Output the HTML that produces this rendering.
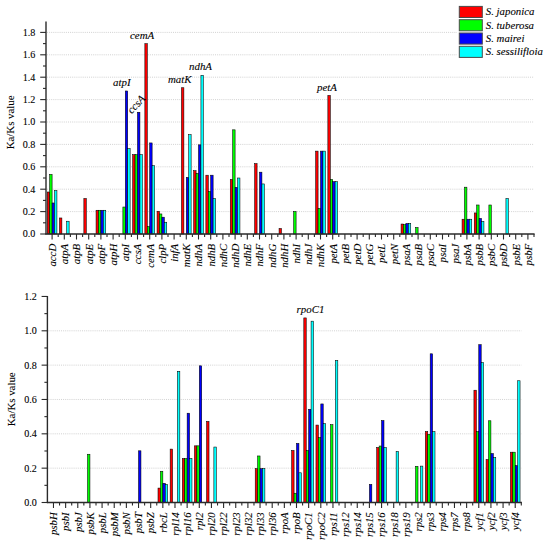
<!DOCTYPE html>
<html><head><meta charset="utf-8"><title>Ka/Ks</title>
<style>
html,body{margin:0;padding:0;background:#fff;}
body{width:550px;height:544px;overflow:hidden;font-family:"Liberation Serif",serif;}
svg{display:block;}
svg text{font-family:"Liberation Serif",serif;fill:#000;stroke:#000;stroke-width:0.1px;}
</style></head><body>
<svg width="550" height="544" viewBox="0 0 550 544">
<rect width="550" height="544" fill="#fff"/>
<line x1="47" y1="211.6" x2="534" y2="211.6" stroke="#cdcdcd" stroke-width="0.9" stroke-dasharray="1 1.1"/>
<line x1="47" y1="189.2" x2="534" y2="189.2" stroke="#cdcdcd" stroke-width="0.9" stroke-dasharray="1 1.1"/>
<line x1="47" y1="166.8" x2="534" y2="166.8" stroke="#cdcdcd" stroke-width="0.9" stroke-dasharray="1 1.1"/>
<line x1="47" y1="144.4" x2="534" y2="144.4" stroke="#cdcdcd" stroke-width="0.9" stroke-dasharray="1 1.1"/>
<line x1="47" y1="122" x2="534" y2="122" stroke="#cdcdcd" stroke-width="0.9" stroke-dasharray="1 1.1"/>
<line x1="47" y1="99.6" x2="534" y2="99.6" stroke="#cdcdcd" stroke-width="0.9" stroke-dasharray="1 1.1"/>
<line x1="47" y1="77.2" x2="534" y2="77.2" stroke="#cdcdcd" stroke-width="0.9" stroke-dasharray="1 1.1"/>
<line x1="47" y1="54.8" x2="534" y2="54.8" stroke="#cdcdcd" stroke-width="0.9" stroke-dasharray="1 1.1"/>
<line x1="47" y1="32.4" x2="534" y2="32.4" stroke="#cdcdcd" stroke-width="0.9" stroke-dasharray="1 1.1"/>
<rect x="47.26" y="192" width="2.42" height="42" fill="#ff0000" stroke="#000" stroke-width="0.55"/>
<rect x="49.68" y="174.42" width="2.42" height="59.58" fill="#00ff00" stroke="#000" stroke-width="0.55"/>
<rect x="52.1" y="202.98" width="2.42" height="31.02" fill="#0000ff" stroke="#000" stroke-width="0.55"/>
<rect x="54.52" y="190.66" width="2.42" height="43.34" fill="#00ffff" stroke="#000" stroke-width="0.55"/>
<rect x="59.46" y="217.98" width="2.42" height="16.02" fill="#ff0000" stroke="#000" stroke-width="0.55"/>
<rect x="66.72" y="221.23" width="2.42" height="12.77" fill="#00ffff" stroke="#000" stroke-width="0.55"/>
<rect x="83.86" y="198.5" width="2.42" height="35.5" fill="#ff0000" stroke="#000" stroke-width="0.55"/>
<rect x="96.06" y="210.26" width="2.42" height="23.74" fill="#ff0000" stroke="#000" stroke-width="0.55"/>
<rect x="98.48" y="210.26" width="2.42" height="23.74" fill="#00ff00" stroke="#000" stroke-width="0.55"/>
<rect x="100.9" y="210.26" width="2.42" height="23.74" fill="#0000ff" stroke="#000" stroke-width="0.55"/>
<rect x="103.32" y="210.26" width="2.42" height="23.74" fill="#00ffff" stroke="#000" stroke-width="0.55"/>
<rect x="122.88" y="207.01" width="2.42" height="26.99" fill="#00ff00" stroke="#000" stroke-width="0.55"/>
<rect x="125.3" y="90.98" width="2.42" height="143.02" fill="#0000ff" stroke="#000" stroke-width="0.55"/>
<rect x="127.72" y="148.66" width="2.42" height="85.34" fill="#00ffff" stroke="#000" stroke-width="0.55"/>
<rect x="132.66" y="154.7" width="2.42" height="79.3" fill="#ff0000" stroke="#000" stroke-width="0.55"/>
<rect x="135.08" y="154.7" width="2.42" height="79.3" fill="#00ff00" stroke="#000" stroke-width="0.55"/>
<rect x="137.5" y="112.26" width="2.42" height="121.74" fill="#0000ff" stroke="#000" stroke-width="0.55"/>
<rect x="139.92" y="154.7" width="2.42" height="79.3" fill="#00ffff" stroke="#000" stroke-width="0.55"/>
<rect x="144.86" y="43.71" width="2.42" height="190.29" fill="#ff0000" stroke="#000" stroke-width="0.55"/>
<rect x="147.28" y="226.5" width="2.42" height="7.5" fill="#00ff00" stroke="#000" stroke-width="0.55"/>
<rect x="149.7" y="142.94" width="2.42" height="91.06" fill="#0000ff" stroke="#000" stroke-width="0.55"/>
<rect x="152.12" y="165.68" width="2.42" height="68.32" fill="#00ffff" stroke="#000" stroke-width="0.55"/>
<rect x="157.06" y="211.26" width="2.42" height="22.74" fill="#ff0000" stroke="#000" stroke-width="0.55"/>
<rect x="159.48" y="213.95" width="2.42" height="20.05" fill="#00ff00" stroke="#000" stroke-width="0.55"/>
<rect x="161.9" y="217.2" width="2.42" height="16.8" fill="#0000ff" stroke="#000" stroke-width="0.55"/>
<rect x="164.32" y="222.24" width="2.42" height="11.76" fill="#00ffff" stroke="#000" stroke-width="0.55"/>
<rect x="181.46" y="87.73" width="2.42" height="146.27" fill="#ff0000" stroke="#000" stroke-width="0.55"/>
<rect x="186.3" y="177.44" width="2.42" height="56.56" fill="#0000ff" stroke="#000" stroke-width="0.55"/>
<rect x="188.72" y="134.66" width="2.42" height="99.34" fill="#00ffff" stroke="#000" stroke-width="0.55"/>
<rect x="193.66" y="170.72" width="2.42" height="63.28" fill="#ff0000" stroke="#000" stroke-width="0.55"/>
<rect x="196.08" y="173.41" width="2.42" height="60.59" fill="#00ff00" stroke="#000" stroke-width="0.55"/>
<rect x="198.5" y="144.85" width="2.42" height="89.15" fill="#0000ff" stroke="#000" stroke-width="0.55"/>
<rect x="200.92" y="75.3" width="2.42" height="158.7" fill="#00ffff" stroke="#000" stroke-width="0.55"/>
<rect x="205.86" y="175.2" width="2.42" height="58.8" fill="#ff0000" stroke="#000" stroke-width="0.55"/>
<rect x="208.28" y="191.44" width="2.42" height="42.56" fill="#00ff00" stroke="#000" stroke-width="0.55"/>
<rect x="210.7" y="175.2" width="2.42" height="58.8" fill="#0000ff" stroke="#000" stroke-width="0.55"/>
<rect x="213.12" y="198.5" width="2.42" height="35.5" fill="#00ffff" stroke="#000" stroke-width="0.55"/>
<rect x="230.26" y="179.46" width="2.42" height="54.54" fill="#ff0000" stroke="#000" stroke-width="0.55"/>
<rect x="232.68" y="129.84" width="2.42" height="104.16" fill="#00ff00" stroke="#000" stroke-width="0.55"/>
<rect x="235.1" y="187.41" width="2.42" height="46.59" fill="#0000ff" stroke="#000" stroke-width="0.55"/>
<rect x="237.52" y="178" width="2.42" height="56" fill="#00ffff" stroke="#000" stroke-width="0.55"/>
<rect x="254.66" y="163.66" width="2.42" height="70.34" fill="#ff0000" stroke="#000" stroke-width="0.55"/>
<rect x="259.5" y="172.18" width="2.42" height="61.82" fill="#0000ff" stroke="#000" stroke-width="0.55"/>
<rect x="261.92" y="183.94" width="2.42" height="50.06" fill="#00ffff" stroke="#000" stroke-width="0.55"/>
<rect x="279.06" y="228.51" width="2.42" height="5.49" fill="#ff0000" stroke="#000" stroke-width="0.55"/>
<rect x="293.68" y="211.49" width="2.42" height="22.51" fill="#00ff00" stroke="#000" stroke-width="0.55"/>
<rect x="315.66" y="151.12" width="2.42" height="82.88" fill="#ff0000" stroke="#000" stroke-width="0.55"/>
<rect x="318.08" y="208.46" width="2.42" height="25.54" fill="#00ff00" stroke="#000" stroke-width="0.55"/>
<rect x="320.5" y="151.12" width="2.42" height="82.88" fill="#0000ff" stroke="#000" stroke-width="0.55"/>
<rect x="322.92" y="151.12" width="2.42" height="82.88" fill="#00ffff" stroke="#000" stroke-width="0.55"/>
<rect x="327.86" y="95.46" width="2.42" height="138.54" fill="#ff0000" stroke="#000" stroke-width="0.55"/>
<rect x="330.28" y="179.46" width="2.42" height="54.54" fill="#00ff00" stroke="#000" stroke-width="0.55"/>
<rect x="332.7" y="181.7" width="2.42" height="52.3" fill="#0000ff" stroke="#000" stroke-width="0.55"/>
<rect x="335.12" y="181.7" width="2.42" height="52.3" fill="#00ffff" stroke="#000" stroke-width="0.55"/>
<rect x="401.06" y="224.03" width="2.42" height="9.97" fill="#ff0000" stroke="#000" stroke-width="0.55"/>
<rect x="403.48" y="224.7" width="2.42" height="9.3" fill="#00ff00" stroke="#000" stroke-width="0.55"/>
<rect x="405.9" y="223.47" width="2.42" height="10.53" fill="#0000ff" stroke="#000" stroke-width="0.55"/>
<rect x="408.32" y="223.47" width="2.42" height="10.53" fill="#00ffff" stroke="#000" stroke-width="0.55"/>
<rect x="415.68" y="227.5" width="2.42" height="6.5" fill="#00ff00" stroke="#000" stroke-width="0.55"/>
<rect x="462.06" y="219.22" width="2.42" height="14.78" fill="#ff0000" stroke="#000" stroke-width="0.55"/>
<rect x="464.48" y="187.18" width="2.42" height="46.82" fill="#00ff00" stroke="#000" stroke-width="0.55"/>
<rect x="466.9" y="219.22" width="2.42" height="14.78" fill="#0000ff" stroke="#000" stroke-width="0.55"/>
<rect x="469.32" y="219.22" width="2.42" height="14.78" fill="#00ffff" stroke="#000" stroke-width="0.55"/>
<rect x="474.26" y="212.94" width="2.42" height="21.06" fill="#ff0000" stroke="#000" stroke-width="0.55"/>
<rect x="476.68" y="204.99" width="2.42" height="29.01" fill="#00ff00" stroke="#000" stroke-width="0.55"/>
<rect x="479.1" y="218.43" width="2.42" height="15.57" fill="#0000ff" stroke="#000" stroke-width="0.55"/>
<rect x="481.52" y="221.46" width="2.42" height="12.54" fill="#00ffff" stroke="#000" stroke-width="0.55"/>
<rect x="488.88" y="204.99" width="2.42" height="29.01" fill="#00ff00" stroke="#000" stroke-width="0.55"/>
<rect x="505.92" y="198.5" width="2.42" height="35.5" fill="#00ffff" stroke="#000" stroke-width="0.55"/>
<line x1="46" y1="21.5" x2="46" y2="234.6" stroke="#2a2a2a" stroke-width="1.4"/>
<line x1="45.4" y1="234" x2="534.6" y2="234" stroke="#2a2a2a" stroke-width="1.4"/>
<line x1="40.2" y1="234" x2="46" y2="234" stroke="#2a2a2a" stroke-width="1.1"/>
<text x="35.4" y="237.4" text-anchor="end" font-size="10.1">0.0</text>
<line x1="43" y1="222.8" x2="46" y2="222.8" stroke="#2a2a2a" stroke-width="1.1"/>
<line x1="40.2" y1="211.6" x2="46" y2="211.6" stroke="#2a2a2a" stroke-width="1.1"/>
<text x="35.4" y="215" text-anchor="end" font-size="10.1">0.2</text>
<line x1="43" y1="200.4" x2="46" y2="200.4" stroke="#2a2a2a" stroke-width="1.1"/>
<line x1="40.2" y1="189.2" x2="46" y2="189.2" stroke="#2a2a2a" stroke-width="1.1"/>
<text x="35.4" y="192.6" text-anchor="end" font-size="10.1">0.4</text>
<line x1="43" y1="178" x2="46" y2="178" stroke="#2a2a2a" stroke-width="1.1"/>
<line x1="40.2" y1="166.8" x2="46" y2="166.8" stroke="#2a2a2a" stroke-width="1.1"/>
<text x="35.4" y="170.2" text-anchor="end" font-size="10.1">0.6</text>
<line x1="43" y1="155.6" x2="46" y2="155.6" stroke="#2a2a2a" stroke-width="1.1"/>
<line x1="40.2" y1="144.4" x2="46" y2="144.4" stroke="#2a2a2a" stroke-width="1.1"/>
<text x="35.4" y="147.8" text-anchor="end" font-size="10.1">0.8</text>
<line x1="43" y1="133.2" x2="46" y2="133.2" stroke="#2a2a2a" stroke-width="1.1"/>
<line x1="40.2" y1="122" x2="46" y2="122" stroke="#2a2a2a" stroke-width="1.1"/>
<text x="35.4" y="125.4" text-anchor="end" font-size="10.1">1.0</text>
<line x1="43" y1="110.8" x2="46" y2="110.8" stroke="#2a2a2a" stroke-width="1.1"/>
<line x1="40.2" y1="99.6" x2="46" y2="99.6" stroke="#2a2a2a" stroke-width="1.1"/>
<text x="35.4" y="103" text-anchor="end" font-size="10.1">1.2</text>
<line x1="43" y1="88.4" x2="46" y2="88.4" stroke="#2a2a2a" stroke-width="1.1"/>
<line x1="40.2" y1="77.2" x2="46" y2="77.2" stroke="#2a2a2a" stroke-width="1.1"/>
<text x="35.4" y="80.6" text-anchor="end" font-size="10.1">1.4</text>
<line x1="43" y1="66" x2="46" y2="66" stroke="#2a2a2a" stroke-width="1.1"/>
<line x1="40.2" y1="54.8" x2="46" y2="54.8" stroke="#2a2a2a" stroke-width="1.1"/>
<text x="35.4" y="58.2" text-anchor="end" font-size="10.1">1.6</text>
<line x1="43" y1="43.6" x2="46" y2="43.6" stroke="#2a2a2a" stroke-width="1.1"/>
<line x1="40.2" y1="32.4" x2="46" y2="32.4" stroke="#2a2a2a" stroke-width="1.1"/>
<text x="35.4" y="35.8" text-anchor="end" font-size="10.1">1.8</text>
<line x1="52.1" y1="234" x2="52.1" y2="239.5" stroke="#2a2a2a" stroke-width="1.1"/>
<text transform="translate(55.9,243.8) rotate(-90)" text-anchor="end" font-style="italic" font-size="10.8">accD</text>
<line x1="58.2" y1="234" x2="58.2" y2="237" stroke="#2a2a2a" stroke-width="1.1"/>
<line x1="64.3" y1="234" x2="64.3" y2="239.5" stroke="#2a2a2a" stroke-width="1.1"/>
<text transform="translate(68.1,243.8) rotate(-90)" text-anchor="end" font-style="italic" font-size="10.8">atpA</text>
<line x1="70.4" y1="234" x2="70.4" y2="237" stroke="#2a2a2a" stroke-width="1.1"/>
<line x1="76.5" y1="234" x2="76.5" y2="239.5" stroke="#2a2a2a" stroke-width="1.1"/>
<text transform="translate(80.3,243.8) rotate(-90)" text-anchor="end" font-style="italic" font-size="10.8">atpB</text>
<line x1="82.6" y1="234" x2="82.6" y2="237" stroke="#2a2a2a" stroke-width="1.1"/>
<line x1="88.7" y1="234" x2="88.7" y2="239.5" stroke="#2a2a2a" stroke-width="1.1"/>
<text transform="translate(92.5,243.8) rotate(-90)" text-anchor="end" font-style="italic" font-size="10.8">atpE</text>
<line x1="94.8" y1="234" x2="94.8" y2="237" stroke="#2a2a2a" stroke-width="1.1"/>
<line x1="100.9" y1="234" x2="100.9" y2="239.5" stroke="#2a2a2a" stroke-width="1.1"/>
<text transform="translate(104.7,243.8) rotate(-90)" text-anchor="end" font-style="italic" font-size="10.8">atpF</text>
<line x1="107" y1="234" x2="107" y2="237" stroke="#2a2a2a" stroke-width="1.1"/>
<line x1="113.1" y1="234" x2="113.1" y2="239.5" stroke="#2a2a2a" stroke-width="1.1"/>
<text transform="translate(116.9,243.8) rotate(-90)" text-anchor="end" font-style="italic" font-size="10.8">atpH</text>
<line x1="119.2" y1="234" x2="119.2" y2="237" stroke="#2a2a2a" stroke-width="1.1"/>
<line x1="125.3" y1="234" x2="125.3" y2="239.5" stroke="#2a2a2a" stroke-width="1.1"/>
<text transform="translate(129.1,243.8) rotate(-90)" text-anchor="end" font-style="italic" font-size="10.8">atpI</text>
<line x1="131.4" y1="234" x2="131.4" y2="237" stroke="#2a2a2a" stroke-width="1.1"/>
<line x1="137.5" y1="234" x2="137.5" y2="239.5" stroke="#2a2a2a" stroke-width="1.1"/>
<text transform="translate(141.3,243.8) rotate(-90)" text-anchor="end" font-style="italic" font-size="10.8">ccsA</text>
<line x1="143.6" y1="234" x2="143.6" y2="237" stroke="#2a2a2a" stroke-width="1.1"/>
<line x1="149.7" y1="234" x2="149.7" y2="239.5" stroke="#2a2a2a" stroke-width="1.1"/>
<text transform="translate(153.5,243.8) rotate(-90)" text-anchor="end" font-style="italic" font-size="10.8">cemA</text>
<line x1="155.8" y1="234" x2="155.8" y2="237" stroke="#2a2a2a" stroke-width="1.1"/>
<line x1="161.9" y1="234" x2="161.9" y2="239.5" stroke="#2a2a2a" stroke-width="1.1"/>
<text transform="translate(165.7,243.8) rotate(-90)" text-anchor="end" font-style="italic" font-size="10.8">clpP</text>
<line x1="168" y1="234" x2="168" y2="237" stroke="#2a2a2a" stroke-width="1.1"/>
<line x1="174.1" y1="234" x2="174.1" y2="239.5" stroke="#2a2a2a" stroke-width="1.1"/>
<text transform="translate(177.9,243.8) rotate(-90)" text-anchor="end" font-style="italic" font-size="10.8">infA</text>
<line x1="180.2" y1="234" x2="180.2" y2="237" stroke="#2a2a2a" stroke-width="1.1"/>
<line x1="186.3" y1="234" x2="186.3" y2="239.5" stroke="#2a2a2a" stroke-width="1.1"/>
<text transform="translate(190.1,243.8) rotate(-90)" text-anchor="end" font-style="italic" font-size="10.8">matK</text>
<line x1="192.4" y1="234" x2="192.4" y2="237" stroke="#2a2a2a" stroke-width="1.1"/>
<line x1="198.5" y1="234" x2="198.5" y2="239.5" stroke="#2a2a2a" stroke-width="1.1"/>
<text transform="translate(202.3,243.8) rotate(-90)" text-anchor="end" font-style="italic" font-size="10.8">ndhA</text>
<line x1="204.6" y1="234" x2="204.6" y2="237" stroke="#2a2a2a" stroke-width="1.1"/>
<line x1="210.7" y1="234" x2="210.7" y2="239.5" stroke="#2a2a2a" stroke-width="1.1"/>
<text transform="translate(214.5,243.8) rotate(-90)" text-anchor="end" font-style="italic" font-size="10.8">ndhB</text>
<line x1="216.8" y1="234" x2="216.8" y2="237" stroke="#2a2a2a" stroke-width="1.1"/>
<line x1="222.9" y1="234" x2="222.9" y2="239.5" stroke="#2a2a2a" stroke-width="1.1"/>
<text transform="translate(226.7,243.8) rotate(-90)" text-anchor="end" font-style="italic" font-size="10.8">ndhC</text>
<line x1="229" y1="234" x2="229" y2="237" stroke="#2a2a2a" stroke-width="1.1"/>
<line x1="235.1" y1="234" x2="235.1" y2="239.5" stroke="#2a2a2a" stroke-width="1.1"/>
<text transform="translate(238.9,243.8) rotate(-90)" text-anchor="end" font-style="italic" font-size="10.8">ndhD</text>
<line x1="241.2" y1="234" x2="241.2" y2="237" stroke="#2a2a2a" stroke-width="1.1"/>
<line x1="247.3" y1="234" x2="247.3" y2="239.5" stroke="#2a2a2a" stroke-width="1.1"/>
<text transform="translate(251.1,243.8) rotate(-90)" text-anchor="end" font-style="italic" font-size="10.8">ndhE</text>
<line x1="253.4" y1="234" x2="253.4" y2="237" stroke="#2a2a2a" stroke-width="1.1"/>
<line x1="259.5" y1="234" x2="259.5" y2="239.5" stroke="#2a2a2a" stroke-width="1.1"/>
<text transform="translate(263.3,243.8) rotate(-90)" text-anchor="end" font-style="italic" font-size="10.8">ndhF</text>
<line x1="265.6" y1="234" x2="265.6" y2="237" stroke="#2a2a2a" stroke-width="1.1"/>
<line x1="271.7" y1="234" x2="271.7" y2="239.5" stroke="#2a2a2a" stroke-width="1.1"/>
<text transform="translate(275.5,243.8) rotate(-90)" text-anchor="end" font-style="italic" font-size="10.8">ndhG</text>
<line x1="277.8" y1="234" x2="277.8" y2="237" stroke="#2a2a2a" stroke-width="1.1"/>
<line x1="283.9" y1="234" x2="283.9" y2="239.5" stroke="#2a2a2a" stroke-width="1.1"/>
<text transform="translate(287.7,243.8) rotate(-90)" text-anchor="end" font-style="italic" font-size="10.8">ndhH</text>
<line x1="290" y1="234" x2="290" y2="237" stroke="#2a2a2a" stroke-width="1.1"/>
<line x1="296.1" y1="234" x2="296.1" y2="239.5" stroke="#2a2a2a" stroke-width="1.1"/>
<text transform="translate(299.9,243.8) rotate(-90)" text-anchor="end" font-style="italic" font-size="10.8">ndhI</text>
<line x1="302.2" y1="234" x2="302.2" y2="237" stroke="#2a2a2a" stroke-width="1.1"/>
<line x1="308.3" y1="234" x2="308.3" y2="239.5" stroke="#2a2a2a" stroke-width="1.1"/>
<text transform="translate(312.1,243.8) rotate(-90)" text-anchor="end" font-style="italic" font-size="10.8">ndhJ</text>
<line x1="314.4" y1="234" x2="314.4" y2="237" stroke="#2a2a2a" stroke-width="1.1"/>
<line x1="320.5" y1="234" x2="320.5" y2="239.5" stroke="#2a2a2a" stroke-width="1.1"/>
<text transform="translate(324.3,243.8) rotate(-90)" text-anchor="end" font-style="italic" font-size="10.8">ndhK</text>
<line x1="326.6" y1="234" x2="326.6" y2="237" stroke="#2a2a2a" stroke-width="1.1"/>
<line x1="332.7" y1="234" x2="332.7" y2="239.5" stroke="#2a2a2a" stroke-width="1.1"/>
<text transform="translate(336.5,243.8) rotate(-90)" text-anchor="end" font-style="italic" font-size="10.8">petA</text>
<line x1="338.8" y1="234" x2="338.8" y2="237" stroke="#2a2a2a" stroke-width="1.1"/>
<line x1="344.9" y1="234" x2="344.9" y2="239.5" stroke="#2a2a2a" stroke-width="1.1"/>
<text transform="translate(348.7,243.8) rotate(-90)" text-anchor="end" font-style="italic" font-size="10.8">petB</text>
<line x1="351" y1="234" x2="351" y2="237" stroke="#2a2a2a" stroke-width="1.1"/>
<line x1="357.1" y1="234" x2="357.1" y2="239.5" stroke="#2a2a2a" stroke-width="1.1"/>
<text transform="translate(360.9,243.8) rotate(-90)" text-anchor="end" font-style="italic" font-size="10.8">petD</text>
<line x1="363.2" y1="234" x2="363.2" y2="237" stroke="#2a2a2a" stroke-width="1.1"/>
<line x1="369.3" y1="234" x2="369.3" y2="239.5" stroke="#2a2a2a" stroke-width="1.1"/>
<text transform="translate(373.1,243.8) rotate(-90)" text-anchor="end" font-style="italic" font-size="10.8">petG</text>
<line x1="375.4" y1="234" x2="375.4" y2="237" stroke="#2a2a2a" stroke-width="1.1"/>
<line x1="381.5" y1="234" x2="381.5" y2="239.5" stroke="#2a2a2a" stroke-width="1.1"/>
<text transform="translate(385.3,243.8) rotate(-90)" text-anchor="end" font-style="italic" font-size="10.8">petL</text>
<line x1="387.6" y1="234" x2="387.6" y2="237" stroke="#2a2a2a" stroke-width="1.1"/>
<line x1="393.7" y1="234" x2="393.7" y2="239.5" stroke="#2a2a2a" stroke-width="1.1"/>
<text transform="translate(397.5,243.8) rotate(-90)" text-anchor="end" font-style="italic" font-size="10.8">petN</text>
<line x1="399.8" y1="234" x2="399.8" y2="237" stroke="#2a2a2a" stroke-width="1.1"/>
<line x1="405.9" y1="234" x2="405.9" y2="239.5" stroke="#2a2a2a" stroke-width="1.1"/>
<text transform="translate(409.7,243.8) rotate(-90)" text-anchor="end" font-style="italic" font-size="10.8">psaA</text>
<line x1="412" y1="234" x2="412" y2="237" stroke="#2a2a2a" stroke-width="1.1"/>
<line x1="418.1" y1="234" x2="418.1" y2="239.5" stroke="#2a2a2a" stroke-width="1.1"/>
<text transform="translate(421.9,243.8) rotate(-90)" text-anchor="end" font-style="italic" font-size="10.8">psaB</text>
<line x1="424.2" y1="234" x2="424.2" y2="237" stroke="#2a2a2a" stroke-width="1.1"/>
<line x1="430.3" y1="234" x2="430.3" y2="239.5" stroke="#2a2a2a" stroke-width="1.1"/>
<text transform="translate(434.1,243.8) rotate(-90)" text-anchor="end" font-style="italic" font-size="10.8">psaC</text>
<line x1="436.4" y1="234" x2="436.4" y2="237" stroke="#2a2a2a" stroke-width="1.1"/>
<line x1="442.5" y1="234" x2="442.5" y2="239.5" stroke="#2a2a2a" stroke-width="1.1"/>
<text transform="translate(446.3,243.8) rotate(-90)" text-anchor="end" font-style="italic" font-size="10.8">psaI</text>
<line x1="448.6" y1="234" x2="448.6" y2="237" stroke="#2a2a2a" stroke-width="1.1"/>
<line x1="454.7" y1="234" x2="454.7" y2="239.5" stroke="#2a2a2a" stroke-width="1.1"/>
<text transform="translate(458.5,243.8) rotate(-90)" text-anchor="end" font-style="italic" font-size="10.8">psaJ</text>
<line x1="460.8" y1="234" x2="460.8" y2="237" stroke="#2a2a2a" stroke-width="1.1"/>
<line x1="466.9" y1="234" x2="466.9" y2="239.5" stroke="#2a2a2a" stroke-width="1.1"/>
<text transform="translate(470.7,243.8) rotate(-90)" text-anchor="end" font-style="italic" font-size="10.8">psbA</text>
<line x1="473" y1="234" x2="473" y2="237" stroke="#2a2a2a" stroke-width="1.1"/>
<line x1="479.1" y1="234" x2="479.1" y2="239.5" stroke="#2a2a2a" stroke-width="1.1"/>
<text transform="translate(482.9,243.8) rotate(-90)" text-anchor="end" font-style="italic" font-size="10.8">psbB</text>
<line x1="485.2" y1="234" x2="485.2" y2="237" stroke="#2a2a2a" stroke-width="1.1"/>
<line x1="491.3" y1="234" x2="491.3" y2="239.5" stroke="#2a2a2a" stroke-width="1.1"/>
<text transform="translate(495.1,243.8) rotate(-90)" text-anchor="end" font-style="italic" font-size="10.8">psbC</text>
<line x1="497.4" y1="234" x2="497.4" y2="237" stroke="#2a2a2a" stroke-width="1.1"/>
<line x1="503.5" y1="234" x2="503.5" y2="239.5" stroke="#2a2a2a" stroke-width="1.1"/>
<text transform="translate(507.3,243.8) rotate(-90)" text-anchor="end" font-style="italic" font-size="10.8">psbD</text>
<line x1="509.6" y1="234" x2="509.6" y2="237" stroke="#2a2a2a" stroke-width="1.1"/>
<line x1="515.7" y1="234" x2="515.7" y2="239.5" stroke="#2a2a2a" stroke-width="1.1"/>
<text transform="translate(519.5,243.8) rotate(-90)" text-anchor="end" font-style="italic" font-size="10.8">psbE</text>
<line x1="521.8" y1="234" x2="521.8" y2="237" stroke="#2a2a2a" stroke-width="1.1"/>
<line x1="527.9" y1="234" x2="527.9" y2="239.5" stroke="#2a2a2a" stroke-width="1.1"/>
<text transform="translate(531.7,243.8) rotate(-90)" text-anchor="end" font-style="italic" font-size="10.8">psbF</text>
<line x1="534" y1="234" x2="534" y2="237" stroke="#2a2a2a" stroke-width="1.1"/>
<text transform="translate(14.2,122.4) rotate(-90)" text-anchor="middle" font-size="10.85">Ka/Ks value</text>
<line x1="48.4" y1="468.16" x2="521.3" y2="468.16" stroke="#cdcdcd" stroke-width="0.9" stroke-dasharray="1 1.1"/>
<line x1="48.4" y1="433.82" x2="521.3" y2="433.82" stroke="#cdcdcd" stroke-width="0.9" stroke-dasharray="1 1.1"/>
<line x1="48.4" y1="399.48" x2="521.3" y2="399.48" stroke="#cdcdcd" stroke-width="0.9" stroke-dasharray="1 1.1"/>
<line x1="48.4" y1="365.14" x2="521.3" y2="365.14" stroke="#cdcdcd" stroke-width="0.9" stroke-dasharray="1 1.1"/>
<line x1="48.4" y1="330.8" x2="521.3" y2="330.8" stroke="#cdcdcd" stroke-width="0.9" stroke-dasharray="1 1.1"/>
<rect x="87.51" y="454.25" width="2.42" height="48.25" fill="#00ff00" stroke="#000" stroke-width="0.55"/>
<rect x="138.53" y="450.82" width="2.42" height="51.68" fill="#0000ff" stroke="#000" stroke-width="0.55"/>
<rect x="158" y="488.08" width="2.42" height="14.42" fill="#ff0000" stroke="#000" stroke-width="0.55"/>
<rect x="160.42" y="471.25" width="2.42" height="31.25" fill="#00ff00" stroke="#000" stroke-width="0.55"/>
<rect x="162.84" y="483.27" width="2.42" height="19.23" fill="#0000ff" stroke="#000" stroke-width="0.55"/>
<rect x="165.26" y="484.47" width="2.42" height="18.03" fill="#00ffff" stroke="#000" stroke-width="0.55"/>
<rect x="170.15" y="449.1" width="2.42" height="53.4" fill="#ff0000" stroke="#000" stroke-width="0.55"/>
<rect x="177.41" y="371.32" width="2.42" height="131.18" fill="#00ffff" stroke="#000" stroke-width="0.55"/>
<rect x="182.3" y="458.54" width="2.42" height="43.96" fill="#ff0000" stroke="#000" stroke-width="0.55"/>
<rect x="184.72" y="458.54" width="2.42" height="43.96" fill="#00ff00" stroke="#000" stroke-width="0.55"/>
<rect x="187.14" y="413.22" width="2.42" height="89.28" fill="#0000ff" stroke="#000" stroke-width="0.55"/>
<rect x="189.56" y="458.54" width="2.42" height="43.96" fill="#00ffff" stroke="#000" stroke-width="0.55"/>
<rect x="194.45" y="445.84" width="2.42" height="56.66" fill="#ff0000" stroke="#000" stroke-width="0.55"/>
<rect x="196.87" y="445.84" width="2.42" height="56.66" fill="#00ff00" stroke="#000" stroke-width="0.55"/>
<rect x="199.29" y="365.83" width="2.42" height="136.67" fill="#0000ff" stroke="#000" stroke-width="0.55"/>
<rect x="206.6" y="421.46" width="2.42" height="81.04" fill="#ff0000" stroke="#000" stroke-width="0.55"/>
<rect x="213.86" y="447.04" width="2.42" height="55.46" fill="#00ffff" stroke="#000" stroke-width="0.55"/>
<rect x="255.21" y="468.68" width="2.42" height="33.82" fill="#ff0000" stroke="#000" stroke-width="0.55"/>
<rect x="257.63" y="455.97" width="2.42" height="46.53" fill="#00ff00" stroke="#000" stroke-width="0.55"/>
<rect x="260.05" y="468.68" width="2.42" height="33.82" fill="#0000ff" stroke="#000" stroke-width="0.55"/>
<rect x="262.47" y="468.68" width="2.42" height="33.82" fill="#00ffff" stroke="#000" stroke-width="0.55"/>
<rect x="291.66" y="450.47" width="2.42" height="52.03" fill="#ff0000" stroke="#000" stroke-width="0.55"/>
<rect x="294.08" y="493.23" width="2.42" height="9.27" fill="#00ff00" stroke="#000" stroke-width="0.55"/>
<rect x="296.5" y="443.44" width="2.42" height="59.06" fill="#0000ff" stroke="#000" stroke-width="0.55"/>
<rect x="298.92" y="472.8" width="2.42" height="29.7" fill="#00ffff" stroke="#000" stroke-width="0.55"/>
<rect x="303.81" y="317.92" width="2.42" height="184.58" fill="#ff0000" stroke="#000" stroke-width="0.55"/>
<rect x="306.23" y="450.47" width="2.42" height="52.03" fill="#00ff00" stroke="#000" stroke-width="0.55"/>
<rect x="308.65" y="409.27" width="2.42" height="93.23" fill="#0000ff" stroke="#000" stroke-width="0.55"/>
<rect x="311.07" y="321.18" width="2.42" height="181.32" fill="#00ffff" stroke="#000" stroke-width="0.55"/>
<rect x="315.96" y="425.06" width="2.42" height="77.44" fill="#ff0000" stroke="#000" stroke-width="0.55"/>
<rect x="318.38" y="437.6" width="2.42" height="64.9" fill="#00ff00" stroke="#000" stroke-width="0.55"/>
<rect x="320.8" y="403.94" width="2.42" height="98.56" fill="#0000ff" stroke="#000" stroke-width="0.55"/>
<rect x="323.22" y="423.52" width="2.42" height="78.98" fill="#00ffff" stroke="#000" stroke-width="0.55"/>
<rect x="330.54" y="424.72" width="2.42" height="77.78" fill="#00ff00" stroke="#000" stroke-width="0.55"/>
<rect x="335.38" y="360.5" width="2.42" height="142" fill="#00ffff" stroke="#000" stroke-width="0.55"/>
<rect x="369.41" y="484.47" width="2.42" height="18.03" fill="#0000ff" stroke="#000" stroke-width="0.55"/>
<rect x="376.72" y="447.56" width="2.42" height="54.94" fill="#ff0000" stroke="#000" stroke-width="0.55"/>
<rect x="379.14" y="446.01" width="2.42" height="56.49" fill="#00ff00" stroke="#000" stroke-width="0.55"/>
<rect x="381.56" y="420.6" width="2.42" height="81.9" fill="#0000ff" stroke="#000" stroke-width="0.55"/>
<rect x="383.98" y="447.56" width="2.42" height="54.94" fill="#00ffff" stroke="#000" stroke-width="0.55"/>
<rect x="396.13" y="451.51" width="2.42" height="50.99" fill="#00ffff" stroke="#000" stroke-width="0.55"/>
<rect x="415.59" y="466.27" width="2.42" height="36.23" fill="#00ff00" stroke="#000" stroke-width="0.55"/>
<rect x="420.43" y="466.1" width="2.42" height="36.4" fill="#00ffff" stroke="#000" stroke-width="0.55"/>
<rect x="425.33" y="431.59" width="2.42" height="70.91" fill="#ff0000" stroke="#000" stroke-width="0.55"/>
<rect x="427.75" y="434.34" width="2.42" height="68.16" fill="#00ff00" stroke="#000" stroke-width="0.55"/>
<rect x="430.17" y="353.81" width="2.42" height="148.69" fill="#0000ff" stroke="#000" stroke-width="0.55"/>
<rect x="432.59" y="431.59" width="2.42" height="70.91" fill="#00ffff" stroke="#000" stroke-width="0.55"/>
<rect x="473.93" y="390.21" width="2.42" height="112.29" fill="#ff0000" stroke="#000" stroke-width="0.55"/>
<rect x="476.35" y="431.59" width="2.42" height="70.91" fill="#00ff00" stroke="#000" stroke-width="0.55"/>
<rect x="478.77" y="344.71" width="2.42" height="157.79" fill="#0000ff" stroke="#000" stroke-width="0.55"/>
<rect x="481.19" y="362.56" width="2.42" height="139.94" fill="#00ffff" stroke="#000" stroke-width="0.55"/>
<rect x="486.08" y="459.57" width="2.42" height="42.92" fill="#ff0000" stroke="#000" stroke-width="0.55"/>
<rect x="488.5" y="420.77" width="2.42" height="81.73" fill="#00ff00" stroke="#000" stroke-width="0.55"/>
<rect x="490.92" y="453.57" width="2.42" height="48.93" fill="#0000ff" stroke="#000" stroke-width="0.55"/>
<rect x="493.34" y="457.51" width="2.42" height="44.99" fill="#00ffff" stroke="#000" stroke-width="0.55"/>
<rect x="510.38" y="452.19" width="2.42" height="50.31" fill="#ff0000" stroke="#000" stroke-width="0.55"/>
<rect x="512.8" y="452.19" width="2.42" height="50.31" fill="#00ff00" stroke="#000" stroke-width="0.55"/>
<rect x="515.22" y="465.58" width="2.42" height="36.92" fill="#0000ff" stroke="#000" stroke-width="0.55"/>
<rect x="517.64" y="380.76" width="2.42" height="121.74" fill="#00ffff" stroke="#000" stroke-width="0.55"/>
<line x1="47.4" y1="296" x2="47.4" y2="503.1" stroke="#2a2a2a" stroke-width="1.4"/>
<line x1="46.8" y1="502.5" x2="521.9" y2="502.5" stroke="#2a2a2a" stroke-width="1.4"/>
<line x1="41.6" y1="502.5" x2="47.4" y2="502.5" stroke="#2a2a2a" stroke-width="1.1"/>
<text x="36.8" y="505.9" text-anchor="end" font-size="10.1">0.0</text>
<line x1="44.4" y1="485.33" x2="47.4" y2="485.33" stroke="#2a2a2a" stroke-width="1.1"/>
<line x1="41.6" y1="468.16" x2="47.4" y2="468.16" stroke="#2a2a2a" stroke-width="1.1"/>
<text x="36.8" y="471.56" text-anchor="end" font-size="10.1">0.2</text>
<line x1="44.4" y1="450.99" x2="47.4" y2="450.99" stroke="#2a2a2a" stroke-width="1.1"/>
<line x1="41.6" y1="433.82" x2="47.4" y2="433.82" stroke="#2a2a2a" stroke-width="1.1"/>
<text x="36.8" y="437.22" text-anchor="end" font-size="10.1">0.4</text>
<line x1="44.4" y1="416.65" x2="47.4" y2="416.65" stroke="#2a2a2a" stroke-width="1.1"/>
<line x1="41.6" y1="399.48" x2="47.4" y2="399.48" stroke="#2a2a2a" stroke-width="1.1"/>
<text x="36.8" y="402.88" text-anchor="end" font-size="10.1">0.6</text>
<line x1="44.4" y1="382.31" x2="47.4" y2="382.31" stroke="#2a2a2a" stroke-width="1.1"/>
<line x1="41.6" y1="365.14" x2="47.4" y2="365.14" stroke="#2a2a2a" stroke-width="1.1"/>
<text x="36.8" y="368.54" text-anchor="end" font-size="10.1">0.8</text>
<line x1="44.4" y1="347.97" x2="47.4" y2="347.97" stroke="#2a2a2a" stroke-width="1.1"/>
<line x1="41.6" y1="330.8" x2="47.4" y2="330.8" stroke="#2a2a2a" stroke-width="1.1"/>
<text x="36.8" y="334.2" text-anchor="end" font-size="10.1">1.0</text>
<line x1="44.4" y1="313.63" x2="47.4" y2="313.63" stroke="#2a2a2a" stroke-width="1.1"/>
<line x1="41.6" y1="296.46" x2="47.4" y2="296.46" stroke="#2a2a2a" stroke-width="1.1"/>
<text x="36.8" y="299.86" text-anchor="end" font-size="10.1">1.2</text>
<line x1="53.48" y1="502.5" x2="53.48" y2="508" stroke="#2a2a2a" stroke-width="1.1"/>
<text transform="translate(57.28,512.3) rotate(-90)" text-anchor="end" font-style="italic" font-size="10.8">psbH</text>
<line x1="59.55" y1="502.5" x2="59.55" y2="505.5" stroke="#2a2a2a" stroke-width="1.1"/>
<line x1="65.63" y1="502.5" x2="65.63" y2="508" stroke="#2a2a2a" stroke-width="1.1"/>
<text transform="translate(69.43,512.3) rotate(-90)" text-anchor="end" font-style="italic" font-size="10.8">psbI</text>
<line x1="71.7" y1="502.5" x2="71.7" y2="505.5" stroke="#2a2a2a" stroke-width="1.1"/>
<line x1="77.78" y1="502.5" x2="77.78" y2="508" stroke="#2a2a2a" stroke-width="1.1"/>
<text transform="translate(81.58,512.3) rotate(-90)" text-anchor="end" font-style="italic" font-size="10.8">psbJ</text>
<line x1="83.85" y1="502.5" x2="83.85" y2="505.5" stroke="#2a2a2a" stroke-width="1.1"/>
<line x1="89.93" y1="502.5" x2="89.93" y2="508" stroke="#2a2a2a" stroke-width="1.1"/>
<text transform="translate(93.73,512.3) rotate(-90)" text-anchor="end" font-style="italic" font-size="10.8">psbK</text>
<line x1="96.01" y1="502.5" x2="96.01" y2="505.5" stroke="#2a2a2a" stroke-width="1.1"/>
<line x1="102.08" y1="502.5" x2="102.08" y2="508" stroke="#2a2a2a" stroke-width="1.1"/>
<text transform="translate(105.88,512.3) rotate(-90)" text-anchor="end" font-style="italic" font-size="10.8">psbL</text>
<line x1="108.16" y1="502.5" x2="108.16" y2="505.5" stroke="#2a2a2a" stroke-width="1.1"/>
<line x1="114.23" y1="502.5" x2="114.23" y2="508" stroke="#2a2a2a" stroke-width="1.1"/>
<text transform="translate(118.03,512.3) rotate(-90)" text-anchor="end" font-style="italic" font-size="10.8">psbM</text>
<line x1="120.31" y1="502.5" x2="120.31" y2="505.5" stroke="#2a2a2a" stroke-width="1.1"/>
<line x1="126.38" y1="502.5" x2="126.38" y2="508" stroke="#2a2a2a" stroke-width="1.1"/>
<text transform="translate(130.18,512.3) rotate(-90)" text-anchor="end" font-style="italic" font-size="10.8">psbN</text>
<line x1="132.46" y1="502.5" x2="132.46" y2="505.5" stroke="#2a2a2a" stroke-width="1.1"/>
<line x1="138.53" y1="502.5" x2="138.53" y2="508" stroke="#2a2a2a" stroke-width="1.1"/>
<text transform="translate(142.33,512.3) rotate(-90)" text-anchor="end" font-style="italic" font-size="10.8">psbT</text>
<line x1="144.61" y1="502.5" x2="144.61" y2="505.5" stroke="#2a2a2a" stroke-width="1.1"/>
<line x1="150.69" y1="502.5" x2="150.69" y2="508" stroke="#2a2a2a" stroke-width="1.1"/>
<text transform="translate(154.49,512.3) rotate(-90)" text-anchor="end" font-style="italic" font-size="10.8">psbZ</text>
<line x1="156.76" y1="502.5" x2="156.76" y2="505.5" stroke="#2a2a2a" stroke-width="1.1"/>
<line x1="162.84" y1="502.5" x2="162.84" y2="508" stroke="#2a2a2a" stroke-width="1.1"/>
<text transform="translate(166.64,512.3) rotate(-90)" text-anchor="end" font-style="italic" font-size="10.8">rbcL</text>
<line x1="168.91" y1="502.5" x2="168.91" y2="505.5" stroke="#2a2a2a" stroke-width="1.1"/>
<line x1="174.99" y1="502.5" x2="174.99" y2="508" stroke="#2a2a2a" stroke-width="1.1"/>
<text transform="translate(178.79,512.3) rotate(-90)" text-anchor="end" font-style="italic" font-size="10.8">rpl14</text>
<line x1="181.06" y1="502.5" x2="181.06" y2="505.5" stroke="#2a2a2a" stroke-width="1.1"/>
<line x1="187.14" y1="502.5" x2="187.14" y2="508" stroke="#2a2a2a" stroke-width="1.1"/>
<text transform="translate(190.94,512.3) rotate(-90)" text-anchor="end" font-style="italic" font-size="10.8">rpl16</text>
<line x1="193.22" y1="502.5" x2="193.22" y2="505.5" stroke="#2a2a2a" stroke-width="1.1"/>
<line x1="199.29" y1="502.5" x2="199.29" y2="508" stroke="#2a2a2a" stroke-width="1.1"/>
<text transform="translate(203.09,512.3) rotate(-90)" text-anchor="end" font-style="italic" font-size="10.8">rpl2</text>
<line x1="205.37" y1="502.5" x2="205.37" y2="505.5" stroke="#2a2a2a" stroke-width="1.1"/>
<line x1="211.44" y1="502.5" x2="211.44" y2="508" stroke="#2a2a2a" stroke-width="1.1"/>
<text transform="translate(215.24,512.3) rotate(-90)" text-anchor="end" font-style="italic" font-size="10.8">rpl20</text>
<line x1="217.52" y1="502.5" x2="217.52" y2="505.5" stroke="#2a2a2a" stroke-width="1.1"/>
<line x1="223.59" y1="502.5" x2="223.59" y2="508" stroke="#2a2a2a" stroke-width="1.1"/>
<text transform="translate(227.39,512.3) rotate(-90)" text-anchor="end" font-style="italic" font-size="10.8">rpl22</text>
<line x1="229.67" y1="502.5" x2="229.67" y2="505.5" stroke="#2a2a2a" stroke-width="1.1"/>
<line x1="235.74" y1="502.5" x2="235.74" y2="508" stroke="#2a2a2a" stroke-width="1.1"/>
<text transform="translate(239.54,512.3) rotate(-90)" text-anchor="end" font-style="italic" font-size="10.8">rpl23</text>
<line x1="241.82" y1="502.5" x2="241.82" y2="505.5" stroke="#2a2a2a" stroke-width="1.1"/>
<line x1="247.9" y1="502.5" x2="247.9" y2="508" stroke="#2a2a2a" stroke-width="1.1"/>
<text transform="translate(251.7,512.3) rotate(-90)" text-anchor="end" font-style="italic" font-size="10.8">rpl32</text>
<line x1="253.97" y1="502.5" x2="253.97" y2="505.5" stroke="#2a2a2a" stroke-width="1.1"/>
<line x1="260.05" y1="502.5" x2="260.05" y2="508" stroke="#2a2a2a" stroke-width="1.1"/>
<text transform="translate(263.85,512.3) rotate(-90)" text-anchor="end" font-style="italic" font-size="10.8">rpl33</text>
<line x1="266.12" y1="502.5" x2="266.12" y2="505.5" stroke="#2a2a2a" stroke-width="1.1"/>
<line x1="272.2" y1="502.5" x2="272.2" y2="508" stroke="#2a2a2a" stroke-width="1.1"/>
<text transform="translate(276,512.3) rotate(-90)" text-anchor="end" font-style="italic" font-size="10.8">rpl36</text>
<line x1="278.27" y1="502.5" x2="278.27" y2="505.5" stroke="#2a2a2a" stroke-width="1.1"/>
<line x1="284.35" y1="502.5" x2="284.35" y2="508" stroke="#2a2a2a" stroke-width="1.1"/>
<text transform="translate(288.15,512.3) rotate(-90)" text-anchor="end" font-style="italic" font-size="10.8">rpoA</text>
<line x1="290.43" y1="502.5" x2="290.43" y2="505.5" stroke="#2a2a2a" stroke-width="1.1"/>
<line x1="296.5" y1="502.5" x2="296.5" y2="508" stroke="#2a2a2a" stroke-width="1.1"/>
<text transform="translate(300.3,512.3) rotate(-90)" text-anchor="end" font-style="italic" font-size="10.8">rpoB</text>
<line x1="302.58" y1="502.5" x2="302.58" y2="505.5" stroke="#2a2a2a" stroke-width="1.1"/>
<line x1="308.65" y1="502.5" x2="308.65" y2="508" stroke="#2a2a2a" stroke-width="1.1"/>
<text transform="translate(312.45,512.3) rotate(-90)" text-anchor="end" font-style="italic" font-size="10.8">rpoC1</text>
<line x1="314.73" y1="502.5" x2="314.73" y2="505.5" stroke="#2a2a2a" stroke-width="1.1"/>
<line x1="320.8" y1="502.5" x2="320.8" y2="508" stroke="#2a2a2a" stroke-width="1.1"/>
<text transform="translate(324.6,512.3) rotate(-90)" text-anchor="end" font-style="italic" font-size="10.8">rpoC2</text>
<line x1="326.88" y1="502.5" x2="326.88" y2="505.5" stroke="#2a2a2a" stroke-width="1.1"/>
<line x1="332.96" y1="502.5" x2="332.96" y2="508" stroke="#2a2a2a" stroke-width="1.1"/>
<text transform="translate(336.76,512.3) rotate(-90)" text-anchor="end" font-style="italic" font-size="10.8">rps11</text>
<line x1="339.03" y1="502.5" x2="339.03" y2="505.5" stroke="#2a2a2a" stroke-width="1.1"/>
<line x1="345.11" y1="502.5" x2="345.11" y2="508" stroke="#2a2a2a" stroke-width="1.1"/>
<text transform="translate(348.91,512.3) rotate(-90)" text-anchor="end" font-style="italic" font-size="10.8">rps12</text>
<line x1="351.18" y1="502.5" x2="351.18" y2="505.5" stroke="#2a2a2a" stroke-width="1.1"/>
<line x1="357.26" y1="502.5" x2="357.26" y2="508" stroke="#2a2a2a" stroke-width="1.1"/>
<text transform="translate(361.06,512.3) rotate(-90)" text-anchor="end" font-style="italic" font-size="10.8">rps14</text>
<line x1="363.33" y1="502.5" x2="363.33" y2="505.5" stroke="#2a2a2a" stroke-width="1.1"/>
<line x1="369.41" y1="502.5" x2="369.41" y2="508" stroke="#2a2a2a" stroke-width="1.1"/>
<text transform="translate(373.21,512.3) rotate(-90)" text-anchor="end" font-style="italic" font-size="10.8">rps15</text>
<line x1="375.48" y1="502.5" x2="375.48" y2="505.5" stroke="#2a2a2a" stroke-width="1.1"/>
<line x1="381.56" y1="502.5" x2="381.56" y2="508" stroke="#2a2a2a" stroke-width="1.1"/>
<text transform="translate(385.36,512.3) rotate(-90)" text-anchor="end" font-style="italic" font-size="10.8">rps16</text>
<line x1="387.64" y1="502.5" x2="387.64" y2="505.5" stroke="#2a2a2a" stroke-width="1.1"/>
<line x1="393.71" y1="502.5" x2="393.71" y2="508" stroke="#2a2a2a" stroke-width="1.1"/>
<text transform="translate(397.51,512.3) rotate(-90)" text-anchor="end" font-style="italic" font-size="10.8">rps18</text>
<line x1="399.79" y1="502.5" x2="399.79" y2="505.5" stroke="#2a2a2a" stroke-width="1.1"/>
<line x1="405.86" y1="502.5" x2="405.86" y2="508" stroke="#2a2a2a" stroke-width="1.1"/>
<text transform="translate(409.66,512.3) rotate(-90)" text-anchor="end" font-style="italic" font-size="10.8">rps19</text>
<line x1="411.94" y1="502.5" x2="411.94" y2="505.5" stroke="#2a2a2a" stroke-width="1.1"/>
<line x1="418.01" y1="502.5" x2="418.01" y2="508" stroke="#2a2a2a" stroke-width="1.1"/>
<text transform="translate(421.81,512.3) rotate(-90)" text-anchor="end" font-style="italic" font-size="10.8">rps2</text>
<line x1="424.09" y1="502.5" x2="424.09" y2="505.5" stroke="#2a2a2a" stroke-width="1.1"/>
<line x1="430.17" y1="502.5" x2="430.17" y2="508" stroke="#2a2a2a" stroke-width="1.1"/>
<text transform="translate(433.97,512.3) rotate(-90)" text-anchor="end" font-style="italic" font-size="10.8">rps3</text>
<line x1="436.24" y1="502.5" x2="436.24" y2="505.5" stroke="#2a2a2a" stroke-width="1.1"/>
<line x1="442.32" y1="502.5" x2="442.32" y2="508" stroke="#2a2a2a" stroke-width="1.1"/>
<text transform="translate(446.12,512.3) rotate(-90)" text-anchor="end" font-style="italic" font-size="10.8">rps4</text>
<line x1="448.39" y1="502.5" x2="448.39" y2="505.5" stroke="#2a2a2a" stroke-width="1.1"/>
<line x1="454.47" y1="502.5" x2="454.47" y2="508" stroke="#2a2a2a" stroke-width="1.1"/>
<text transform="translate(458.27,512.3) rotate(-90)" text-anchor="end" font-style="italic" font-size="10.8">rps7</text>
<line x1="460.54" y1="502.5" x2="460.54" y2="505.5" stroke="#2a2a2a" stroke-width="1.1"/>
<line x1="466.62" y1="502.5" x2="466.62" y2="508" stroke="#2a2a2a" stroke-width="1.1"/>
<text transform="translate(470.42,512.3) rotate(-90)" text-anchor="end" font-style="italic" font-size="10.8">rps8</text>
<line x1="472.69" y1="502.5" x2="472.69" y2="505.5" stroke="#2a2a2a" stroke-width="1.1"/>
<line x1="478.77" y1="502.5" x2="478.77" y2="508" stroke="#2a2a2a" stroke-width="1.1"/>
<text transform="translate(482.57,512.3) rotate(-90)" text-anchor="end" font-style="italic" font-size="10.8">ycf1</text>
<line x1="484.85" y1="502.5" x2="484.85" y2="505.5" stroke="#2a2a2a" stroke-width="1.1"/>
<line x1="490.92" y1="502.5" x2="490.92" y2="508" stroke="#2a2a2a" stroke-width="1.1"/>
<text transform="translate(494.72,512.3) rotate(-90)" text-anchor="end" font-style="italic" font-size="10.8">ycf2</text>
<line x1="497" y1="502.5" x2="497" y2="505.5" stroke="#2a2a2a" stroke-width="1.1"/>
<line x1="503.07" y1="502.5" x2="503.07" y2="508" stroke="#2a2a2a" stroke-width="1.1"/>
<text transform="translate(506.87,512.3) rotate(-90)" text-anchor="end" font-style="italic" font-size="10.8">ycf3</text>
<line x1="509.15" y1="502.5" x2="509.15" y2="505.5" stroke="#2a2a2a" stroke-width="1.1"/>
<line x1="515.22" y1="502.5" x2="515.22" y2="508" stroke="#2a2a2a" stroke-width="1.1"/>
<text transform="translate(519.02,512.3) rotate(-90)" text-anchor="end" font-style="italic" font-size="10.8">ycf4</text>
<line x1="521.3" y1="502.5" x2="521.3" y2="505.5" stroke="#2a2a2a" stroke-width="1.1"/>
<text transform="translate(15.3,399.3) rotate(-90)" text-anchor="middle" font-size="10.85">Ka/Ks value</text>
<text x="130" y="38.8" font-style="italic" font-size="10.9">cemA</text>
<text x="113" y="86" font-style="italic" font-size="10.9">atpI</text>
<text transform="translate(131.8,114.2) rotate(-47)" font-style="italic" font-size="10.9">ccsA</text>
<text x="168" y="83" font-style="italic" font-size="10.9">matK</text>
<text x="189" y="69.5" font-style="italic" font-size="10.9">ndhA</text>
<text x="317" y="91.3" font-style="italic" font-size="10.9">petA</text>
<text x="296.5" y="313" font-style="italic" font-size="10.9">rpoC1</text>
<rect x="457" y="1" width="93" height="60" fill="#fff"/>
<rect x="459.3" y="6.4" width="23" height="11.1" fill="#ff0000" stroke="#4a4a4a" stroke-width="1"/>
<text x="485.8" y="15.2" font-style="italic" font-size="10.8">S. japonica</text>
<rect x="459.3" y="19.7" width="23" height="11.1" fill="#00ff00" stroke="#4a4a4a" stroke-width="1"/>
<text x="485.8" y="28.5" font-style="italic" font-size="10.8">S. tuberosa</text>
<rect x="459.3" y="33" width="23" height="11.1" fill="#0000ff" stroke="#4a4a4a" stroke-width="1"/>
<text x="485.8" y="41.8" font-style="italic" font-size="10.8">S. mairei</text>
<rect x="459.3" y="46.3" width="23" height="11.1" fill="#00ffff" stroke="#4a4a4a" stroke-width="1"/>
<text x="485.8" y="55.1" font-style="italic" font-size="10.8">S. sessilifloia</text>
</svg>
</body></html>
